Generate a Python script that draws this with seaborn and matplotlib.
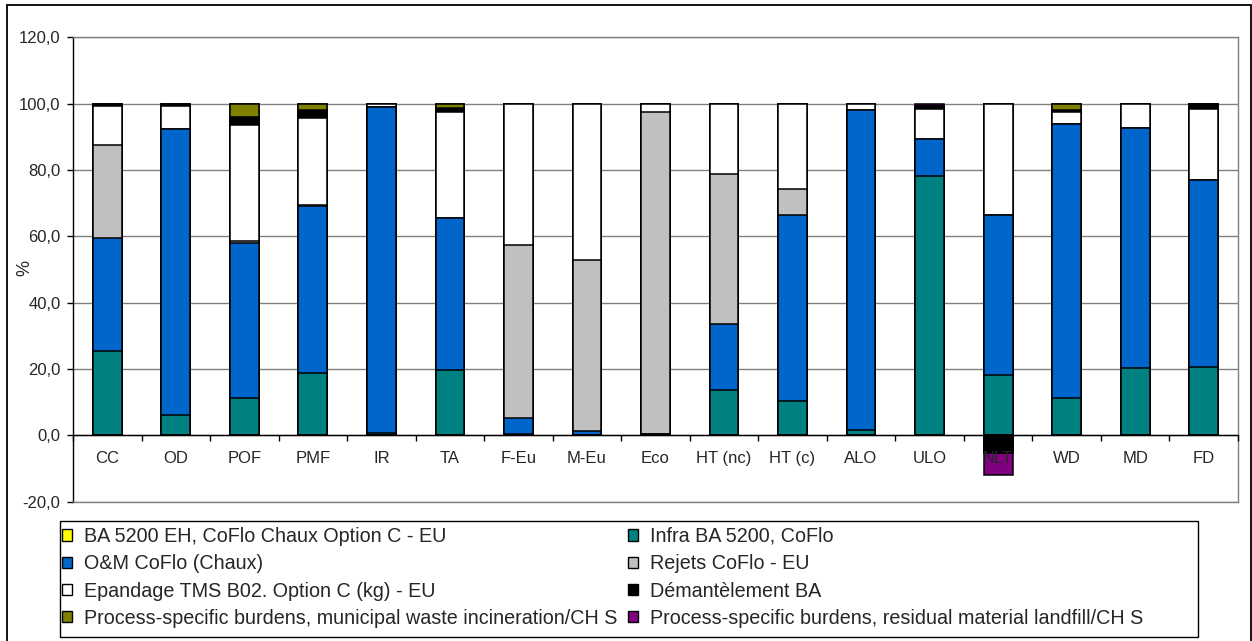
import numpy as np
import matplotlib
matplotlib.use("Agg")
import matplotlib.pyplot as plt
from matplotlib.patches import Patch, Rectangle
import seaborn as sns

categories = ["CC", "OD", "POF", "PMF", "IR", "TA", "F-Eu", "M-Eu", "Eco",
              "HT (nc)", "HT (c)", "ALO", "ULO", "NLT", "WD", "MD", "FD"]

ba_5200_eh = [0.0, 0.0, 0.0, 0.0, 0.0, 0.0, 0.0, 0.0, 0.0,
              0.0, 0.0, 0.0, 0.0, 0.0, 0.0, 0.0, 0.0]
infra_ba = [25.3, 6.2, 11.4, 18.7, 0.8, 19.7, 0.3, 0.2, 0.3,
            13.7, 10.4, 1.7, 78.3, 18.2, 11.4, 20.2, 20.7]
om_coflo = [34.3, 86.2, 46.7, 50.5, 98.2, 45.7, 4.8, 1.1, 0.2,
            19.8, 56.0, 96.3, 11.1, 48.2, 82.4, 72.6, 56.3]
rejets = [28.0, 0.0, 0.6, 0.3, 0.0, 0.0, 52.2, 51.5, 97.1,
          45.3, 7.8, 0.0, 0.0, 0.0, 0.0, 0.0, 0.0]
epandage = [11.8, 7.0, 34.9, 26.2, 0.8, 32.1, 42.7, 47.2, 2.4,
            21.2, 25.8, 2.0, 9.1, 33.6, 3.7, 7.2, 21.5]
demantelement = [0.6, 0.6, 2.3, 2.5, 0.2, 1.3, 0.0, 0.0, 0.0,
                 0.0, 0.0, 0.0, 0.7, -5.2, 0.7, 0.0, 1.5]
incineration = [0.0, 0.0, 4.1, 1.8, 0.0, 1.2, 0.0, 0.0, 0.0,
                0.0, 0.0, 0.0, 0.0, 0.0, 1.8, 0.0, 0.0]
landfill = [0.0, 0.0, 0.0, 0.0, 0.0, 0.0, 0.0, 0.0, 0.0,
            0.0, 0.0, 0.0, 0.8, -6.9, 0.0, 0.0, 0.0]

series_labels = [
    "BA 5200 EH, CoFlo Chaux Option C - EU",
    "Infra BA 5200, CoFlo",
    "O&M CoFlo (Chaux)",
    "Rejets CoFlo - EU",
    "Epandage TMS B02. Option C (kg) - EU",
    "Démantèlement BA",
    "Process-specific burdens, municipal waste incineration/CH S",
    "Process-specific burdens, residual material landfill/CH S",
]
series_colors = ["#FFFF00", "#008080", "#0066CC", "#C0C0C0",
                 "#FFFFFF", "#000000", "#808000", "#800080"]
y_ticks = [-20, 0, 20, 40, 60, 80, 100, 120]

sns.set_style("white")
plt.rcParams["font.family"] = ["Liberation Sans", "DejaVu Sans"]

W, H = 1252, 641
fig = plt.figure(figsize=(W / 100, H / 100), dpi=100)
ax = fig.add_axes([73 / W, 1 - 501.7 / H, (1238 - 73) / W, (501.7 - 37.3) / H])

stack = np.array([ba_5200_eh, infra_ba, om_coflo, rejets, epandage,
                  demantelement, incineration, landfill])
cum_pos = np.cumsum(np.where(stack > 0, stack, 0), axis=0)
cum_neg = np.cumsum(np.where(stack < 0, stack, 0), axis=0)

for i in range(len(series_labels) - 1, -1, -1):
    for cum in (cum_pos, cum_neg):
        sns.barplot(x=categories, y=cum[i], order=categories,
                    color=series_colors[i], saturation=1, edgecolor="black",
                    linewidth=1.1, width=0.42, errorbar=None, ax=ax, zorder=2)

ymin, ymax = -20, 120
ax.set_ylim(ymin, ymax)
ax.set_xlim(-0.5, len(categories) - 0.5)
ax.set_yticks(y_ticks)
ax.set_yticklabels([f"{v:.1f}".replace(".", ",") for v in y_ticks], fontsize=12)
ax.tick_params(axis="y", direction="out", length=4, width=1, color="black",
               pad=5, left=True)
ax.tick_params(axis="x", length=0, labelbottom=False)
ax.set_xlabel("")
ax.set_ylabel("%", fontsize=13)
ax.yaxis.set_label_coords((33 - 73) / (1238 - 73), 0.503)
ax.yaxis.grid(True, color="#808080", linewidth=1)
ax.xaxis.grid(False)
ax.set_axisbelow(True)
for s in ["top", "right", "bottom"]:
    ax.spines[s].set_color("#808080")
    ax.spines[s].set_linewidth(1)
ax.spines["left"].set_color("black")
ax.spines["left"].set_linewidth(1)

# category axis at y = 0
sec = ax.secondary_xaxis((0 - ymin) / (ymax - ymin))
sec.set_zorder(10)
sec.set_xticks(range(len(categories)))
sec.set_xticklabels(categories, fontsize=12)
sec.set_xticks(np.arange(len(categories) + 1) - 0.5, minor=True)
sec.tick_params(axis="x", which="major", length=0, pad=11)
sec.tick_params(axis="x", which="minor", length=4, width=1, direction="out",
                color="black")
sec.spines["bottom"].set_color("black")
sec.spines["bottom"].set_linewidth(1)

# legend
handles = [Patch(facecolor=c, edgecolor="black", linewidth=1)
           for c in series_colors]
order = [0, 2, 4, 6, 1, 3, 5, 7]
leg = fig.legend([handles[k] for k in order], [series_labels[k] for k in order],
                 ncol=2, loc="upper left",
                 bbox_to_anchor=(62 / W, 1 - 527 / H),
                 frameon=False, fontsize=14.2,
                 handlelength=0.5, handleheight=0.5, handletextpad=0.6,
                 labelspacing=0.42, borderaxespad=0, borderpad=0.0,
                 columnspacing=0.55)
fig.patches.append(Rectangle((60 / W, 1 - 636.7 / H), (1198 - 60) / W, 116 / H,
                             transform=fig.transFigure, fill=False,
                             edgecolor="black", linewidth=1))

fig.patches.append(Rectangle((7 / W, -0.1), (1251 - 7) / W, 1.1 - 5 / H,
                             transform=fig.transFigure, fill=False,
                             edgecolor="black", linewidth=1.3))

fig.savefig("out.png", dpi=100)
